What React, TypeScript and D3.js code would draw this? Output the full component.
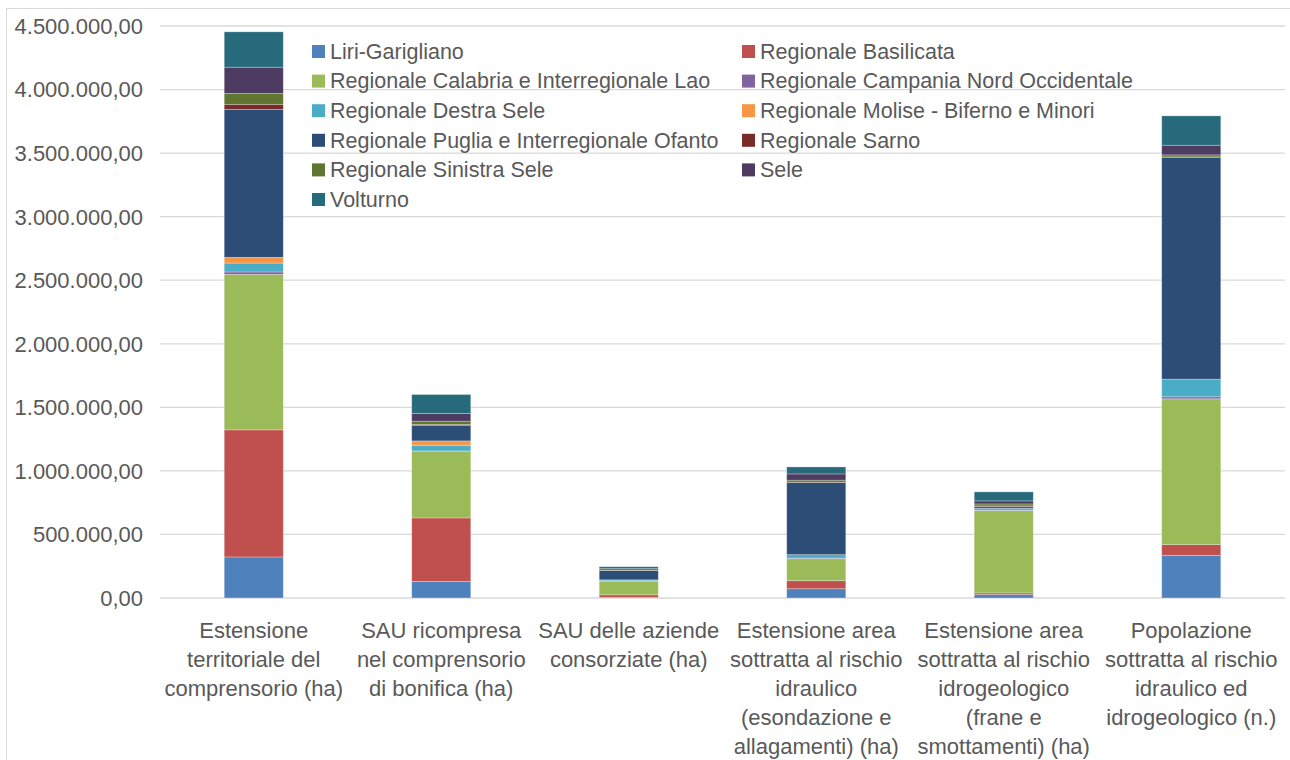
import React from "react";
import * as d3 from "d3";

const categories: string[][] = [
  ["Estensione", "territoriale del", "comprensorio (ha)"],
  ["SAU ricompresa", "nel comprensorio", "di bonifica (ha)"],
  ["SAU delle aziende", "consorziate (ha)"],
  ["Estensione area", "sottratta al rischio", "idraulico", "(esondazione e", "allagamenti) (ha)"],
  ["Estensione area", "sottratta al rischio", "idrogeologico", "(frane e", "smottamenti) (ha)"],
  ["Popolazione", "sottratta al rischio", "idraulico ed", "idrogeologico (n.)"],
];

const seriesNames: string[] = [
  "Liri-Garigliano",
  "Regionale Basilicata",
  "Regionale Calabria e Interregionale Lao",
  "Regionale Campania Nord Occidentale",
  "Regionale Destra Sele",
  "Regionale Molise - Biferno e Minori",
  "Regionale Puglia e Interregionale Ofanto",
  "Regionale Sarno",
  "Regionale Sinistra Sele",
  "Sele",
  "Volturno",
];

const seriesColors: string[] = [
  "#4F81BD", "#C0504D", "#9BBB59", "#8064A2", "#4BACC6", "#F79646",
  "#2C4D75", "#772C2A", "#5F7530", "#4D3B62", "#276A7C",
];

// values per series, one per category
const liriGarigliano = [323000, 131000, 5000, 73000, 28000, 336000];
const basilicata = [1000000, 499000, 20000, 63000, 12000, 84000];
const calabriaLao = [1223000, 522000, 108000, 173000, 647000, 1147000];
const campaniaNO = [19000, 5000, 2000, 5000, 4000, 16000];
const destraSele = [70000, 45000, 8000, 27000, 15000, 139000];
const moliseBiferno = [45000, 34000, 0, 0, 0, 0];
const pugliaOfanto = [1163000, 121000, 73000, 567000, 13000, 1745000];
const sarno = [41000, 8000, 2000, 3000, 5000, 3000];
const sinistraSele = [85000, 26000, 3000, 16000, 16000, 16000];
const sele = [207000, 60000, 10000, 49000, 24000, 76000];
const volturno = [278000, 150000, 15000, 55000, 71000, 231000];

const seriesValues: number[][] = [
  liriGarigliano, basilicata, calabriaLao, campaniaNO, destraSele, moliseBiferno,
  pugliaOfanto, sarno, sinistraSele, sele, volturno,
];

const yTicks: number[] = [0, 500000, 1000000, 1500000, 2000000, 2500000, 3000000, 3500000, 4000000, 4500000];

const itLocale = d3.formatLocale({ decimal: ",", thousands: ".", grouping: [3], currency: ["€", ""] });
const fmt = itLocale.format(",.2f");

const FONT = "'Liberation Sans', Arial, sans-serif";
const TEXT = "#595959";

export default function App() {
  const left = 160, right = 1285, top = 26, bottom = 598;
  const keys = categories.map((_, i) => String(i));
  const x = d3.scaleBand<string>().domain(keys).range([left, right]).paddingInner(0.685).paddingOuter(0.3425);
  const y = d3.scaleLinear().domain([0, 4500000]).range([bottom, top]);

  const rows = keys.map((k, i) => {
    const r: any = { key: k };
    seriesNames.forEach((s, j) => (r[s] = seriesValues[j][i]));
    return r;
  });
  const stacked = d3.stack<any>().keys(seriesNames)(rows);

  return (
    <svg width={1290} height={760} style={{ position: "absolute", left: 0, top: 0, display: "block" }} fontFamily={FONT}>
      <rect x={0} y={0} width={1290} height={760} fill="#fff" />
      <rect x={6.5} y={8.5} width={1400} height={900} fill="none" stroke="#d9d9d9" strokeWidth={1} />
      {yTicks.map((t) => (
        <g key={t}>
          <line x1={left} x2={right} y1={y(t)} y2={y(t)} stroke="#d9d9d9" strokeWidth={1.3} />
          <text x={143} y={y(t)} dy="0.36em" textAnchor="end" fontSize={22} fill={TEXT}>
            {fmt(t)}
          </text>
        </g>
      ))}
      {stacked.map((layer, j) => (
        <g key={seriesNames[j]} fill={seriesColors[j]}>
          {layer.map((d, i) => {
            const h = y(d[0]) - y(d[1]);
            if (h <= 0) return null;
            return (
              <rect
                key={i}
                x={x(keys[i])!}
                y={y(d[1])}
                width={x.bandwidth()}
                height={h}
                stroke="#ffffff"
                strokeOpacity={0.35}
                strokeWidth={0.8}
              />
            );
          })}
        </g>
      ))}
      {categories.map((lines, i) => (
        <text key={i} textAnchor="middle" fontSize={22} fill={TEXT}>
          {lines.map((l, k) => (
            <tspan key={k} x={x(keys[i])! + x.bandwidth() / 2} y={638 + k * 29}>
              {l}
            </tspan>
          ))}
        </text>
      ))}
      {seriesNames.map((s, j) => {
        const col = j % 2;
        const row = Math.floor(j / 2);
        const sx = col === 0 ? 312 : 742;
        const cy = 51 + row * 29.6;
        return (
          <g key={s}>
            <rect x={sx} y={cy - 6} width={13} height={13} fill={seriesColors[j]} />
            <text x={sx + 18} y={cy} dy="0.36em" fontSize={21.5} fill={TEXT}>
              {s}
            </text>
          </g>
        );
      })}
    </svg>
  );
}
